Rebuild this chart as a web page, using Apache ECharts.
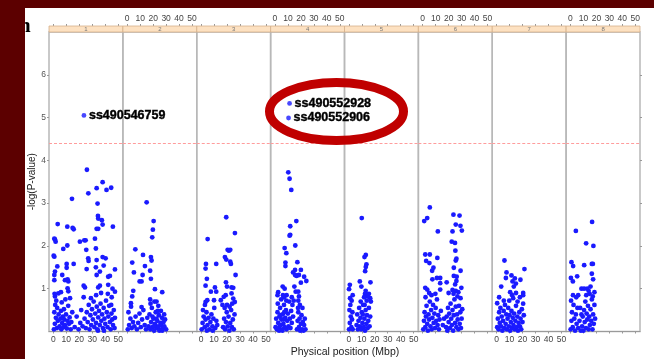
<!DOCTYPE html>
<html>
<head>
<meta charset="utf-8">
<script src="https://cdn.jsdelivr.net/npm/echarts@6/dist/echarts.min.js"></script>
<style>
html, body { margin: 0; padding: 0; background: #5c0000; }
#chart { width: 654px; height: 359px; }
</style>
</head>
<body>
<div id="chart"></div>
<script>
// 染色体编号 / 刻度
const chrNames = ['1', '2', '3', '4', '5', '6', '7', '8']
const xTicks = [0, 10, 20, 30, 40, 50]
const yTicks = [1, 2, 3, 4, 5, 6]
const threshold = 4.4

// 每条染色体的 [位置(Mbp), -log(P)]
const chr1 = [
    [25.9, 3.78], [38, 3.49], [33.4, 3.35], [41, 3.31], [44.6, 3.36], [27, 3.23], [14.4, 3.10], [34.1, 2.99],
    [34.4, 2.70], [34.6, 2.64], [37.4, 2.60], [38, 2.50], [33.4, 2.40], [34.6, 2.40], [45.9, 2.45], [3.4, 2.51],
    [10.8, 2.45], [14.9, 2.42], [15.7, 2.39], [1.3, 2.15], [0.8, 2.17], [1.8, 2.10], [23.9, 2.13], [24.9, 2.13],
    [20.5, 2.10], [32.1, 2.17], [7.7, 1.93], [10.8, 2.01], [25.4, 1.91], [32.8, 1.94], [0.8, 1.75], [0.3, 1.77],
    [26.9, 1.71], [27.2, 1.65], [38, 1.74], [40.3, 1.71], [33.4, 1.67], [3.1, 1.52], [1.3, 1.40], [0.8, 1.32],
    [6.9, 1.32], [10.3, 1.58], [15.7, 1.58], [10.3, 1.49], [25.7, 1.46], [32.8, 1.50], [38.8, 1.54], [47.5, 1.45],
    [33.4, 1.32], [35.9, 1.40], [42.3, 1.28], [43.6, 1.30], [9, 1.20], [11, 1.22], [11.6, 1.17], [0.8, 1.20],
    [23.4, 1.07], [24.4, 1.03], [35.9, 1.07], [34.6, 1.03], [42.3, 1.09], [45.6, 1.00], [47.5, 0.93], [11, 1.01],
    [11.6, 0.94], [5.9, 0.92], [3.9, 0.89], [1.3, 0.82],
    [0.5, 0.05], [1.2, 0.18], [2.0, 0.32], [0.8, 0.45], [1.5, 0.62], [2.8, 0.08], [3.5, 0.25], [4.1, 0.40],
    [3.0, 0.55], [4.8, 0.12], [5.5, 0.30], [6.2, 0.05], [5.9, 0.48], [6.8, 0.20], [7.4, 0.35], [7.9, 0.10],
    [8.5, 0.28], [8.2, 0.52], [9.1, 0.15], [9.8, 0.40], [10.4, 0.07], [10.9, 0.25], [11.5, 0.60], [12.1, 0.18],
    [12.6, 0.33], [13.4, 0.05], [13.9, 0.22], [14.6, 0.45], [2.3, 0.72], [6.5, 0.68], [9.3, 0.75], [12.9, 0.78],
    [1.0, 0.88], [16.5, 0.10], [18.0, 0.35], [19.5, 0.05], [20.8, 0.20], [21.5, 0.50], [22.6, 0.12], [23.4, 0.80],
    [24.1, 0.30], [25.0, 0.08], [25.8, 0.45], [26.5, 0.22], [27.3, 0.62], [27.9, 0.05], [28.6, 0.38], [29.2, 0.15],
    [29.8, 0.52], [30.5, 0.28], [31.1, 0.70], [31.7, 0.10], [32.3, 0.42], [32.9, 0.20], [33.5, 0.58], [34.0, 0.05],
    [34.6, 0.33], [35.2, 0.48], [35.8, 0.15], [36.4, 0.65], [37.0, 0.25], [37.6, 0.40], [38.2, 0.08], [38.8, 0.55],
    [39.4, 0.30], [40.0, 0.18], [40.6, 0.72], [41.2, 0.45], [41.8, 0.10], [42.4, 0.35], [43.0, 0.60], [43.6, 0.22],
    [44.2, 0.05], [44.8, 0.42], [45.4, 0.28], [46.0, 0.15], [46.6, 0.50], [47.2, 0.08], [47.5, 0.32], [33.0, 0.85],
    [36.8, 0.90], [42.0, 0.88], [45.0, 0.80], [29.0, 0.78], [34.4, 0.02], [39.0, 0.02], [44.6, 0.62]
]
const chr2 = [
    [15, 3.02], [20.4, 2.58], [19.8, 2.38], [19.3, 2.20], [6.3, 1.92], [12.2, 1.79], [18.3, 1.74], [18.8, 1.66],
    [3.9, 1.61], [5.2, 1.38], [13.7, 1.53], [11.9, 1.32], [17.7, 1.42], [18.3, 1.23], [9.6, 1.17], [11.1, 1.17],
    [21.4, 0.99], [27.0, 0.92], [4.7, 0.95], [3.9, 0.82], [2.9, 0.66], [11.1, 0.57], [17.7, 0.75], [22.6, 0.70],
    [0.5, 0.05], [1.5, 0.15], [2.5, 0.30], [1.0, 0.45], [3.5, 0.08], [4.5, 0.22], [3.0, 0.58], [5.5, 0.12],
    [6.5, 0.35], [7.5, 0.05], [8.5, 0.20], [9.5, 0.42], [10.5, 0.10], [11.5, 0.28], [12.5, 0.50], [13.5, 0.15],
    [14.5, 0.05], [15.5, 0.32], [16.5, 0.12], [17.2, 0.40], [17.8, 0.05], [18.4, 0.22], [19.0, 0.55], [19.6, 0.10],
    [20.2, 0.30], [20.8, 0.02], [21.4, 0.18], [22.0, 0.45], [22.6, 0.08], [23.2, 0.25], [23.8, 0.12], [24.4, 0.38],
    [25.0, 0.05], [25.6, 0.20], [26.2, 0.15], [26.8, 0.32], [27.4, 0.08], [28.0, 0.22], [28.6, 0.12], [29.2, 0.28],
    [30.0, 0.05], [18.0, 0.65], [21.0, 0.70], [24.0, 0.60], [26.0, 0.48], [28.5, 0.40], [20.5, 0.12], [22.5, 0.30],
    [24.8, 0.02], [27.0, 0.02], [19.5, 0.35], [23.5, 0.48]
]
const chr3 = [
    [19.4, 2.67], [26.1, 2.30], [5.1, 2.16], [20.5, 1.91], [21.5, 1.89], [22.5, 1.91], [18.4, 1.74], [19.4, 1.68],
    [22.5, 1.63], [23, 1.58], [3.8, 1.58], [3.5, 1.47], [11.7, 1.58], [26.6, 1.32], [4.5, 1.23], [3.5, 1.07],
    [19.2, 1.15], [20, 1.05], [23.5, 1.03], [24.8, 1.02], [10.7, 1.03], [7.6, 0.93], [11.7, 0.93], [17.5, 0.81],
    [19, 0.85], [23.5, 0.89], [24.8, 0.77], [26, 0.69], [3.5, 0.69], [4.8, 0.73], [10, 0.73], [15.2, 0.73], [16.5, 0.62],
    [0.5, 0.05], [1.2, 0.20], [2.0, 0.35], [1.5, 0.50], [2.8, 0.10], [3.5, 0.28], [4.2, 0.45], [3.0, 0.62],
    [5.0, 0.15], [5.8, 0.32], [6.5, 0.05], [7.2, 0.22], [8.0, 0.40], [8.8, 0.12], [9.5, 0.30], [10.2, 0.55],
    [11.0, 0.08], [11.8, 0.25], [12.5, 0.15], [4.5, 0.02], [9.0, 0.02], [17.0, 0.10], [17.8, 0.30], [18.5, 0.05],
    [19.2, 0.22], [19.8, 0.45], [20.5, 0.12], [21.2, 0.35], [21.8, 0.02], [22.5, 0.20], [23.2, 0.50], [23.8, 0.10],
    [24.5, 0.28], [25.2, 0.05], [25.8, 0.40], [20.0, 0.62], [22.0, 0.58], [18.2, 0.55], [24.0, 0.65]
]
const chr4 = [
    [10.3, 3.72], [11.3, 3.57], [12.6, 3.31], [16.5, 2.58], [11.8, 2.46], [11.8, 2.26], [11.3, 2.24], [7.5, 1.95],
    [8.8, 1.83], [15.7, 2.01], [8.1, 1.61], [8.1, 1.53], [17.3, 1.62], [15.5, 1.44], [20, 1.44], [16.7, 1.30],
    [18.5, 1.32], [22.5, 1.28], [20, 1.14], [24.2, 1.18], [14, 1.38], [15.5, 1.32], [6, 1.05], [7.5, 1.00],
    [2.5, 0.92], [2, 0.85], [15, 1.05], [16, 0.93], [18, 0.93], [18.5, 0.82], [9, 0.85], [7, 0.80], [13, 0.80],
    [14.5, 0.72], [18, 0.72], [17.8, 0.55],
    [0.5, 0.10], [1.0, 0.30], [1.5, 0.05], [2.0, 0.45], [2.5, 0.20], [3.0, 0.08], [3.5, 0.35], [4.0, 0.55],
    [4.5, 0.15], [5.0, 0.28], [5.5, 0.05], [6.0, 0.40], [6.5, 0.18], [7.0, 0.62], [7.5, 0.10], [8.0, 0.32],
    [8.5, 0.50], [9.0, 0.05], [9.5, 0.25], [10.0, 0.42], [10.5, 0.12], [11.0, 0.70], [11.5, 0.30], [12.0, 0.08],
    [12.5, 0.48], [13.0, 0.20], [13.5, 0.62], [14.0, 0.35], [2.2, 0.65], [4.8, 0.75], [6.2, 0.85], [8.8, 0.72],
    [3.2, 0.02], [5.8, 0.02], [17.0, 0.05], [17.5, 0.25], [18.0, 0.45], [18.5, 0.10], [19.0, 0.30], [19.5, 0.02],
    [20.0, 0.18], [20.5, 0.38], [21.0, 0.05], [21.5, 0.22], [22.0, 0.02], [22.5, 0.15], [23.0, 0.30], [23.5, 0.05],
    [19.2, 0.62], [21.2, 0.55], [3.8, 0.15], [6.8, 0.28], [4.2, 0.38], [7.2, 0.45]
]
const chr5 = [
    [10, 2.65], [13.1, 1.79], [12.1, 1.74], [13.6, 1.57], [13.1, 1.51], [12.6, 1.41], [0.8, 1.09], [0.2, 0.99],
    [8.5, 1.17], [9.7, 1.05], [16.7, 1.15], [13, 0.95], [12.5, 0.88], [15.5, 0.88], [16.5, 0.78], [17, 0.70],
    [14.5, 0.82], [3, 0.85],
    [0.2, 0.05], [0.8, 0.20], [1.5, 0.35], [0.5, 0.50], [2.0, 0.10], [2.5, 0.28], [3.0, 0.05], [1.2, 0.62],
    [2.8, 0.45], [6.0, 0.15], [6.5, 0.40], [7.0, 0.05], [7.5, 0.25], [8.0, 0.55], [8.5, 0.12], [9.0, 0.32],
    [9.5, 0.05], [10.0, 0.45], [10.5, 0.20], [11.0, 0.62], [11.5, 0.10], [12.0, 0.30], [12.5, 0.02], [13.0, 0.50],
    [13.5, 0.18], [14.0, 0.38], [14.5, 0.08], [15.0, 0.25], [15.5, 0.55], [16.0, 0.12], [16.5, 0.35], [9.2, 0.70],
    [13.8, 0.72], [11.8, 0.80], [1.0, 0.78], [2.2, 0.72], [10.8, 0.40], [12.2, 0.62]
]
const chr6 = [
    [5.5, 2.90], [3.5, 2.65], [1.2, 2.58], [23.7, 2.73], [28.4, 2.71], [25.5, 2.50], [29.1, 2.47], [30.2, 2.36],
    [23, 2.34], [11.7, 2.34], [22.4, 2.10], [24.9, 2.07], [25.2, 1.89], [2, 1.80], [5.5, 1.80], [11.3, 1.72],
    [2.7, 1.65], [5.2, 1.60], [26, 1.70], [25.5, 1.66], [8.3, 1.49], [7.3, 1.42], [24, 1.49], [29.2, 1.42],
    [24, 1.30], [26.2, 1.28], [13.5, 1.25], [11, 1.25], [7.5, 1.22], [13.5, 1.13], [18.5, 1.15], [2, 1.02],
    [3.5, 0.98], [13.5, 0.98], [23, 0.97], [25.5, 0.95], [29.8, 1.02], [5, 0.90], [20, 0.90], [27.5, 0.92],
    [25, 1.10], [26, 1.18],
    [0.5, 0.05], [1.0, 0.25], [1.5, 0.45], [2.0, 0.10], [2.5, 0.35], [3.0, 0.60], [3.5, 0.18], [4.0, 0.02],
    [4.5, 0.40], [5.0, 0.28], [5.5, 0.70], [6.0, 0.12], [6.5, 0.50], [7.0, 0.05], [7.5, 0.32], [8.0, 0.62],
    [8.5, 0.20], [9.0, 0.42], [9.5, 0.08], [10.0, 0.55], [10.5, 0.25], [11.0, 0.75], [11.5, 0.15], [12.0, 0.38],
    [12.5, 0.05], [13.0, 0.28], [14.0, 0.48], [2.2, 0.80], [6.8, 0.85], [9.8, 0.88], [18.0, 0.10], [18.5, 0.35],
    [19.0, 0.02], [19.5, 0.55], [20.0, 0.22], [20.5, 0.42], [21.0, 0.08], [21.5, 0.65], [22.0, 0.30], [22.5, 0.15],
    [23.0, 0.50], [23.5, 0.02], [24.0, 0.38], [24.5, 0.75], [25.0, 0.20], [25.5, 0.58], [26.0, 0.10], [26.5, 0.40],
    [27.0, 0.28], [27.5, 0.05], [28.0, 0.60], [28.5, 0.18], [29.0, 0.45], [29.5, 0.08], [30.0, 0.30], [30.5, 0.52],
    [23.8, 0.88], [26.8, 0.82], [29.2, 0.78], [16.5, 0.30], [15.5, 0.15]
]
const chr7 = [
    [6.1, 1.66], [21.5, 1.46], [7.7, 1.38], [11.5, 1.31], [7.2, 1.25], [14.1, 1.24], [18.4, 1.21], [12.3, 1.17],
    [13.3, 1.05], [14.9, 1.12], [3.6, 1.05], [0.5, 0.66], [2, 0.80], [5.6, 0.72], [20.5, 0.90], [20.5, 0.85],
    [15, 0.90], [12, 0.85], [18, 0.80], [10.5, 0.92],
    [0.5, 0.10], [1.0, 0.30], [1.5, 0.05], [2.0, 0.45], [2.5, 0.20], [3.0, 0.55], [3.5, 0.12], [4.0, 0.35],
    [4.5, 0.02], [5.0, 0.25], [5.5, 0.48], [6.0, 0.08], [6.5, 0.62], [7.0, 0.18], [7.5, 0.40], [8.0, 0.05],
    [8.5, 0.30], [9.0, 0.55], [9.5, 0.12], [10.0, 0.38], [10.5, 0.02], [11.0, 0.22], [11.5, 0.48], [12.0, 0.08],
    [12.5, 0.32], [13.0, 0.15], [13.5, 0.42], [14.0, 0.05], [14.5, 0.25], [15.0, 0.60], [15.5, 0.10], [16.0, 0.35],
    [16.5, 0.02], [17.0, 0.20], [17.5, 0.45], [18.0, 0.12], [18.5, 0.30], [19.0, 0.05], [19.5, 0.52], [20.0, 0.22],
    [20.5, 0.65], [21.0, 0.38], [9.8, 0.72], [12.8, 0.78], [16.2, 0.70]
]
const chr8 = [
    [16.7, 2.56], [4.2, 2.35], [12.1, 2.06], [17.7, 2.00], [0.8, 1.62], [2.1, 1.53], [10.6, 1.55], [16.5, 1.58],
    [17.3, 1.58], [5.2, 1.29], [0.4, 1.25], [1.9, 1.17], [16.5, 1.35], [17.5, 1.22], [15.5, 1.05], [13, 1.00],
    [8.5, 1.00], [10.5, 1.00], [6, 0.85], [14, 0.95], [18.5, 0.92],
    [0.2, 0.05], [0.8, 0.25], [1.2, 0.45], [1.8, 0.10], [2.4, 0.62], [3.0, 0.30], [3.6, 0.02], [4.2, 0.40],
    [4.8, 0.18], [5.4, 0.55], [6.0, 0.08], [9.0, 0.12], [9.5, 0.35], [10.0, 0.02], [10.5, 0.50], [11.0, 0.22],
    [11.5, 0.70], [12.0, 0.08], [12.5, 0.42], [13.0, 0.28], [13.5, 0.60], [14.0, 0.05], [14.5, 0.35], [15.0, 0.15],
    [15.5, 0.52], [16.0, 0.25], [16.5, 0.75], [17.0, 0.05], [17.5, 0.40], [18.0, 0.18], [18.5, 0.62], [19.0, 0.30],
    [0.5, 0.72], [2.0, 0.85], [4.5, 0.80], [7.0, 0.25], [7.5, 0.55], [8.0, 0.02], [8.5, 0.40], [12.2, 0.85],
    [14.8, 0.88], [17.2, 0.82]
]
const chrData = [chr1, chr2, chr3, chr4, chr5, chr6, chr7, chr8]

// 显著位点: 染色体序号, 位置, -log(P), 名称
const hitChr = [0, 3, 3]
const hitPos = [23.6, 11.3, 10.5]
const hitVal = [5.05, 5.33, 4.99]
const hitNames = ['ss490546759', 'ss490552928', 'ss490552906']

const chart = echarts.init(document.getElementById('chart'), null, {renderer: 'canvas'})
const FONT = 'Liberation Sans, Arial, sans-serif'
const PANEL_LEFT = 49
const PANEL_W = 73.875
const PANEL_TOP = 32
const PANEL_H = 299.5
const X_MIN = -3.3
const X_MAX = 53.6
const N = chrNames.length

const grids = [], xAxes = [], yAxes = [], series = []
const graphics = [
    {type: 'rect', shape: {x: 25, y: 8, width: 629, height: 351}, style: {fill: '#fff'}, z: -10, silent: true},
    {type: 'text', x: 19, y: 16, style: {text: 'n', font: 'bold 21px Liberation Serif, serif', fill: '#000'}, z: -9, silent: true},
    {type: 'rect', shape: {x: 0, y: 0, width: 25, height: 359}, style: {fill: '#5c0000'}, z: -8, silent: true},
]

for (let i = 0; i < N; i++) {
    const left = PANEL_LEFT + i * PANEL_W
    grids.push({left: left, top: PANEL_TOP, width: PANEL_W, height: PANEL_H, show: true,
        borderColor: '#b8b8b8', borderWidth: 1.5, backgroundColor: 'transparent'})
    // 下方坐标轴 (奇数面板显示数字)
    xAxes.push({
        gridIndex: i, type: 'value', min: X_MIN, max: X_MAX, position: 'bottom',
        splitLine: {show: false},
        axisLine: {show: true, onZero: false, lineStyle: {color: '#9a9a9a', width: 1}},
        axisTick: {show: true, length: 2, customValues: xTicks, lineStyle: {color: '#999'}},
        axisLabel: {show: i % 2 === 0, customValues: xTicks, fontSize: 8.5, color: '#444', margin: 4, fontFamily: FONT}
    })
    // 第一面板左侧显示刻度, 最后一面板右侧只画刻度线
    const first = i === 0, last = i === N - 1
    yAxes.push({
        gridIndex: i, type: 'value', min: 0, max: 7, show: first || last, position: last ? 'right' : 'left',
        splitLine: {show: false},
        axisLine: {show: false, onZero: false},
        axisTick: {show: true, length: 2, customValues: yTicks, lineStyle: {color: '#999'}},
        axisLabel: {show: first, customValues: yTicks, fontSize: 8.5, color: '#555', margin: 3, fontFamily: FONT},
        name: first ? '-log(P-value)' : '', nameLocation: 'middle', nameGap: 12, nameMoveOverlap: false,
        nameTextStyle: {fontSize: 10, color: '#222', fontFamily: FONT}
    })
    series.push({
        type: 'scatter', name: 'chr' + chrNames[i], xAxisIndex: i, yAxisIndex: i,
        data: chrData[i], symbolSize: 4.8, silent: true,
        itemStyle: {color: '#1a1aff', opacity: 1},
        markLine: {
            silent: true, symbol: 'none', label: {show: false},
            lineStyle: {type: [3, 2], color: '#ff9c9c', width: 1},
            data: [{yAxis: threshold}]
        }
    })
    // 顶部条带
    graphics.push({type: 'rect', shape: {x: left, y: 26, width: PANEL_W, height: 6},
        style: {fill: '#fde1c1', stroke: '#d6b08a', lineWidth: 0.8}, z: 5, silent: true})
    graphics.push({type: 'text', x: left + PANEL_W / 2, y: 29,
        style: {text: chrNames[i], fontSize: 6, fill: '#777', align: 'center', verticalAlign: 'middle', fontFamily: FONT},
        z: 6, silent: true})
}
// 顶部坐标轴 (偶数面板显示数字)
for (let i = 0; i < N; i++) {
    xAxes.push({
        gridIndex: i, type: 'value', min: X_MIN, max: X_MAX, position: 'top', offset: 6,
        splitLine: {show: false},
        axisLine: {show: false, onZero: false},
        axisTick: {show: true, length: 2, customValues: xTicks, lineStyle: {color: '#999'}},
        axisLabel: {show: i % 2 === 1, customValues: xTicks, fontSize: 8.5, color: '#444', margin: 3, fontFamily: FONT}
    })
}

// 显著位点
for (let k = 0; k < hitNames.length; k++) {
    series.push({
        type: 'scatter', name: hitNames[k], xAxisIndex: hitChr[k], yAxisIndex: hitChr[k], silent: true, z: 10,
        symbolSize: 4.8, itemStyle: {color: '#1a1aff'},
        data: [[hitPos[k], hitVal[k]]]
    })
}

graphics.push({type: 'text', x: 345, y: 352,
    style: {text: 'Physical position (Mbp)', fontSize: 10.5, fill: '#222', align: 'center', verticalAlign: 'middle', fontFamily: FONT},
    silent: true})
// 红色圈注
graphics.push({type: 'ellipse', shape: {cx: 336.5, cy: 111.5, rx: 67, ry: 29},
    style: {fill: 'none', stroke: '#c00000', lineWidth: 9}, z: 100, silent: true})

chart.setOption({
    backgroundColor: '#5c0000',
    animation: false,
    grid: grids,
    xAxis: xAxes,
    yAxis: yAxes,
    series: series,
    graphic: graphics
})

// 位点名称标签 (按坐标换算位置)
for (let k = 0; k < hitNames.length; k++) {
    const p = chart.convertToPixel({xAxisIndex: hitChr[k], yAxisIndex: hitChr[k]}, [hitPos[k], hitVal[k]])
    graphics.push({type: 'text', x: p[0] + 5, y: p[1],
        style: {text: hitNames[k], font: 'bold 12.5px ' + FONT, fill: '#000', stroke: '#000', lineWidth: 0.4,
            verticalAlign: 'middle'},
        z: 50, silent: true})
}
chart.setOption({graphic: graphics})
</script>
</body>
</html>
